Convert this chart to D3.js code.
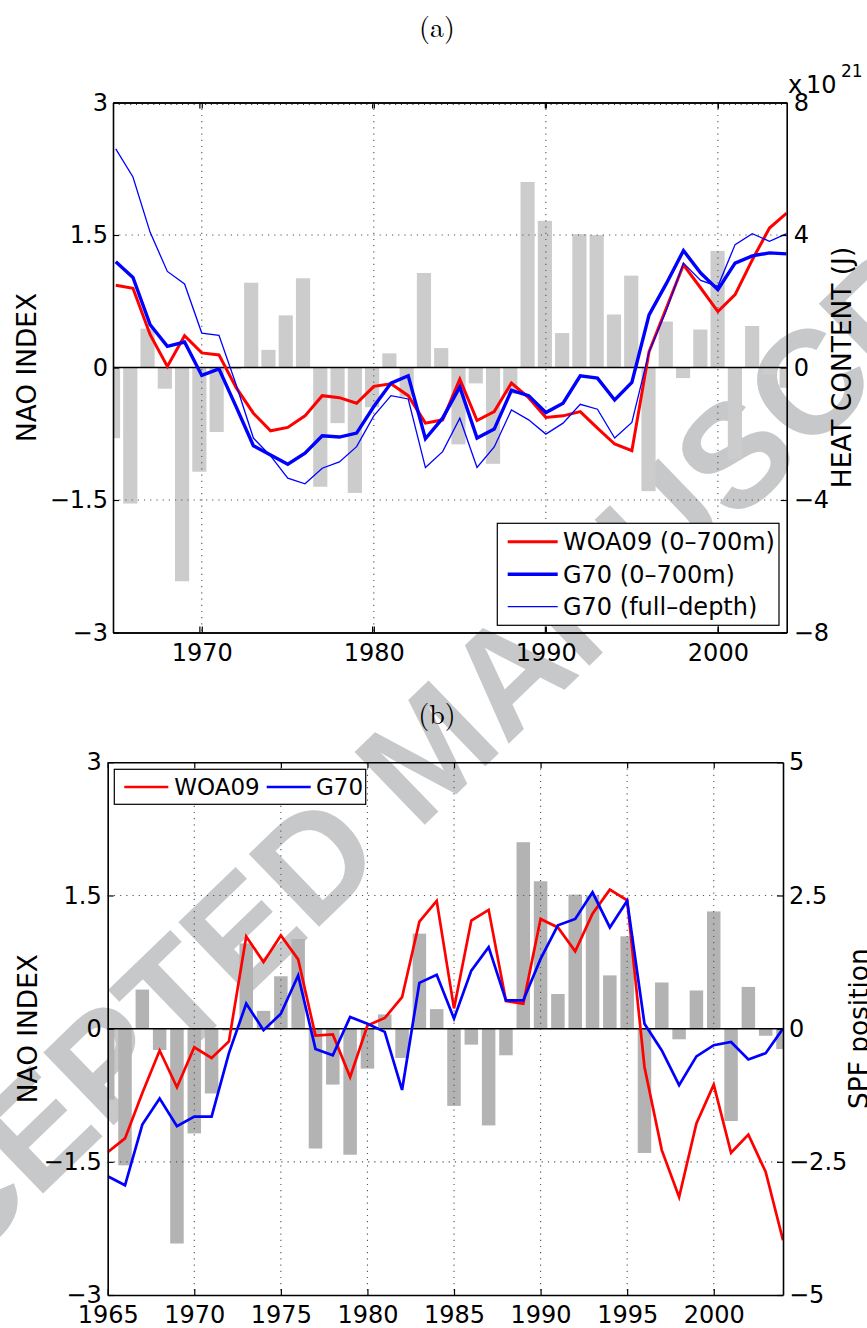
<!DOCTYPE html>
<html><head><meta charset="utf-8">
<script src="https://cdn.jsdelivr.net/npm/d3@7"></script>
<style>body{margin:0;background:#fff}svg{display:block}</style>
</head><body>
<svg id="c" width="867" height="1328"></svg>
<script>
// ---------- DATA ----------
const years = [1965,1966,1967,1968,1969,1970,1971,1972,1973,1974,1975,1976,1977,1978,1979,1980,1981,1982,1983,1984,1985,1986,1987,1988,1989,1990,1991,1992,1993,1994,1995,1996,1997,1998,1999,2000,2001,2002,2003,2004];
const naoIndex = [-0.80,-1.54,0.44,-0.24,-2.42,-1.18,-0.73,-0.02,0.96,0.20,0.59,1.01,-1.35,-0.63,-1.42,-0.45,0.16,-0.33,1.07,0.22,-0.87,-0.18,-1.09,-0.30,2.10,1.66,0.39,1.51,1.50,0.60,1.04,-1.40,0.52,-0.12,0.43,1.32,-1.04,0.47,-0.08,-0.23];
// heat content, x 10^21 J
const hcWOA09 = [2.48,2.39,0.99,0.03,0.96,0.44,0.38,-0.61,-1.38,-1.91,-1.81,-1.46,-0.85,-0.91,-1.08,-0.57,-0.49,-0.85,-1.68,-1.58,-0.35,-1.60,-1.33,-0.47,-0.91,-1.51,-1.46,-1.33,-1.83,-2.31,-2.51,0.48,1.79,3.10,2.40,1.69,2.20,3.25,4.21,4.66];
const hcG70 = [3.19,2.72,1.29,0.64,0.77,-0.24,-0.04,-1.19,-2.36,-2.64,-2.92,-2.59,-2.06,-2.10,-1.98,-1.18,-0.47,-0.25,-2.15,-1.53,-0.59,-2.13,-1.86,-0.69,-0.85,-1.36,-1.08,-0.25,-0.32,-0.98,-0.45,1.59,2.53,3.53,2.85,2.35,3.15,3.37,3.46,3.43];
const hcG70full = [6.60,5.75,4.08,2.90,2.52,1.04,0.97,-0.52,-2.13,-2.67,-3.34,-3.51,-3.04,-2.85,-2.39,-1.46,-0.85,-0.95,-3.02,-2.54,-1.53,-3.02,-2.40,-1.28,-1.58,-2.01,-1.68,-1.11,-1.26,-2.13,-1.66,0.47,1.72,3.15,2.63,2.45,3.71,4.04,3.81,4.04];
// SPF position
const spfWOA09 = [-2.32,-2.06,-1.21,-0.41,-1.10,-0.35,-0.55,-0.24,1.73,1.25,1.75,1.30,-0.13,-0.11,-0.91,0.06,0.20,0.59,2.01,2.40,0.38,2.03,2.23,0.52,0.47,2.06,1.90,1.45,2.16,2.61,2.41,-0.72,-2.28,-3.16,-1.78,-1.05,-2.33,-1.99,-2.69,-3.97];
const spfG70 = [-2.77,-2.94,-1.80,-1.31,-1.83,-1.65,-1.65,-0.46,0.47,-0.03,0.28,1.00,-0.38,-0.50,0.22,0.09,-0.06,-1.15,0.86,1.01,0.19,1.09,1.53,0.53,0.53,1.31,1.94,2.06,2.56,1.90,2.40,0.09,-0.41,-1.06,-0.52,-0.31,-0.25,-0.58,-0.46,0.00];
const naoTicks = [-3,-1.5,0,1.5,3];
const hcTicks = [-8,-4,0,4,8];
const spfTicks = [-5,-2.5,0,2.5,5];
const yearTicksA = [1970,1980,1990,2000];
const yearTicksB = [1965,1970,1975,1980,1985,1990,1995,2000];
const legendA = ["WOA09 (0\u2013700m)","G70 (0\u2013700m)","G70 (full\u2013depth)"];
const legendB = ["WOA09","G70"];

// ---------- DRAW ----------
const svg = d3.select("#c");
const FONT = "DejaVu Sans, Liberation Sans, Arial, sans-serif";
svg.append("rect").attr("width",867).attr("height",1328).attr("fill","#fff");

// watermark (behind data)
svg.append("g").attr("transform","translate(428,748) rotate(-44)")
  .append("text").attr("text-anchor","middle").attr("dy","0.36em")
  .attr("font-family","Liberation Sans, Arial, sans-serif").attr("font-weight","bold")
  .attr("font-size",147).attr("fill","#c7c8ca").text("ACCEPTED MANUSCRIPT");

const fmt = d3.format("~g");
let clipId = 0;

function drawPanel(o){
  const g = svg.append("g");
  const id = "clip"+(clipId++);
  g.append("clipPath").attr("id",id).append("rect")
    .attr("x",o.L).attr("y",o.T).attr("width",o.R-o.L).attr("height",o.B-o.T);
  const xBar = d3.scaleLinear().domain(o.barDomain).range([o.L,o.R]);
  const xLine = d3.scaleLinear().domain(o.lineDomain).range([o.L,o.R]);
  const yL = d3.scaleLinear().domain([-3,3]).range([o.B,o.T]);
  const yR = d3.scaleLinear().domain(o.rDomain).range([o.B,o.T]);
  const bw = (xBar(1966)-xBar(1965))*o.barWidth;
  // bars
  g.append("g").attr("clip-path",`url(#${id})`).selectAll("rect").data(years).join("rect")
    .attr("x",(d)=>xBar(d)-bw/2).attr("width",bw)
    .attr("y",(d,i)=>yL(Math.max(0,naoIndex[i])))
    .attr("height",(d,i)=>Math.abs(yL(naoIndex[i])-yL(0)))
    .attr("fill",o.barColor);
  // grid
  const grid = g.append("g").attr("stroke","#555").attr("stroke-width",1.1).attr("stroke-dasharray","1.2,5");
  o.xTicks.forEach(t=>{ if(t>o.lineDomain[0]+0.01) grid.append("line").attr("x1",xLine(t)).attr("x2",xLine(t)).attr("y1",o.T).attr("y2",o.B);});
  [-1.5,1.5].forEach(t=>grid.append("line").attr("x1",o.L).attr("x2",o.R).attr("y1",yL(t)).attr("y2",yL(t)));
  // zero line
  g.append("line").attr("x1",o.L).attr("x2",o.R).attr("y1",yL(0)).attr("y2",yL(0)).attr("stroke","#000").attr("stroke-width",1.5);
  // lines
  const lg = g.append("g").attr("clip-path",`url(#${id})`);
  o.series.forEach(s=>{
    const line = d3.line().x((d,i)=>xLine(years[i])).y(d=>yR(d));
    lg.append("path").datum(s.values).attr("d",line).attr("fill","none")
      .attr("stroke",s.color).attr("stroke-width",s.width).attr("stroke-linejoin","miter");
  });
  // axes
  const axL = d3.axisLeft(yL).tickValues(naoTicks).tickFormat(fmt).tickSizeInner(-6).tickSizeOuter(0).tickPadding(o.lPad);
  const axR = d3.axisRight(yR).tickValues(o.rTicks).tickFormat(fmt).tickSizeInner(-6).tickSizeOuter(0).tickPadding(o.rPad);
  const axB = d3.axisBottom(xLine).tickValues(o.xTicks).tickFormat(d3.format("d")).tickSizeInner(-6).tickSizeOuter(0).tickPadding(11);
  const axT = d3.axisTop(xLine).tickValues(o.xTicks).tickFormat("").tickSizeInner(-6).tickSizeOuter(0);
  const styleAx = sel => { sel.selectAll("path").attr("stroke","#000").attr("stroke-width",1.6);
    sel.selectAll("line").attr("stroke","#000").attr("stroke-width",1.2);
    sel.selectAll("text").attr("fill","#000").attr("font-family",FONT).attr("font-size",24); sel.attr("font-family",FONT).attr("font-size",24); };
  if (o.dualTicks){
    // second (bar) axis ticks, slightly offset from the line axis
    g.append("g").attr("transform",`translate(0,${o.B})`).call(d3.axisBottom(xBar).tickValues(o.xTicks).tickFormat("").tickSizeInner(-6).tickSizeOuter(0)).call(styleAx);
    g.append("g").attr("transform",`translate(0,${o.T})`).call(d3.axisTop(xBar).tickValues(o.xTicks).tickFormat("").tickSizeInner(-6).tickSizeOuter(0)).call(styleAx);
    const comb = d3.scaleLinear().domain([0,117]).range([o.L,o.R]);
    g.append("g").attr("transform",`translate(0,${o.T})`)
      .call(d3.axisTop(comb).ticks(117).tickFormat("").tickSizeInner(-2.5).tickSizeOuter(0))
      .call(sel=>{sel.selectAll("path").remove(); sel.selectAll("line").attr("stroke","#333").attr("stroke-width",1);});
  }
  g.append("g").attr("transform",`translate(${o.L},0)`).call(axL).call(styleAx);
  g.append("g").attr("transform",`translate(${o.R},0)`).call(axR).call(styleAx);
  g.append("g").attr("transform",`translate(0,${o.B})`).call(axB).call(styleAx);
  g.append("g").attr("transform",`translate(0,${o.T})`).call(axT).call(styleAx);
  // axis titles
  g.append("text").attr("transform",`translate(${o.lLabX},${(o.T+o.B)/2}) rotate(-90)`).attr("text-anchor","middle")
    .attr("font-family",FONT).attr("font-size",26.4).text("NAO INDEX");
  g.append("text").attr("transform",`translate(${o.rLabX},${(o.T+o.B)/2}) rotate(-90)`).attr("text-anchor","middle")
    .attr("font-family",FONT).attr("font-size",26.4).text(o.rLabel);
  // panel title
  svg.append("text").attr("x",437).attr("y",o.titleY).attr("text-anchor","middle")
    .attr("font-family","Latin Modern Roman, CMU Serif, Liberation Serif, DejaVu Serif, serif").attr("font-size",28).text(o.title);
  return g;
}

const gA = drawPanel({L:113,R:786.7,T:102.5,B:632.5,barDomain:[1965,2004],lineDomain:[1964.84,2004],
  rDomain:[-8,8],rTicks:hcTicks,xTicks:yearTicksA,barWidth:0.82,barColor:"#cccccc",lPad:5,rPad:7,dualTicks:true,
  lLabX:36,rLabX:851,rLabel:"HEAT CONTENT (J)",title:"(a)",titleY:37,
  series:[{values:hcWOA09,color:"#ff0000",width:3},{values:hcG70,color:"#0000ff",width:3.4},{values:hcG70full,color:"#0000ff",width:1.3}]});
// x 10^21
gA.append("text").attr("x",788).attr("y",93).attr("font-family",FONT).attr("font-size",24).text("x");
gA.append("text").attr("x",806).attr("y",93).attr("font-family",FONT).attr("font-size",24).text("10");
gA.append("text").attr("x",841).attr("y",77).attr("font-family",FONT).attr("font-size",17).text("21");
// legend a
{
  const lg = gA.append("g");
  lg.append("rect").attr("x",497.3).attr("y",523.3).attr("width",779-497.3).attr("height",625.3-523.3)
    .attr("fill","#fff").attr("stroke","#000").attr("stroke-width",1.2);
  const st = [{c:"#ff0000",w:3},{c:"#0000ff",w:3.4},{c:"#0000ff",w:1.3}];
  const ys = [541.7,574.3,606.7];
  legendA.forEach((t,i)=>{
    lg.append("line").attr("x1",507.7).attr("x2",557.7).attr("y1",ys[i]).attr("y2",ys[i]).attr("stroke",st[i].c).attr("stroke-width",st[i].w);
    lg.append("text").attr("x",563).attr("y",ys[i]).attr("dy","0.36em").attr("font-family",FONT).attr("font-size",24).text(t);
  });
}

const gB = drawPanel({L:107.7,R:783,T:762.3,B:1295,barDomain:[1965,2004],lineDomain:[1965,2004],
  rDomain:[-5,5],rTicks:spfTicks,xTicks:yearTicksB,barWidth:0.78,barColor:"#b3b3b3",lPad:6,rPad:6,dualTicks:false,
  lLabX:37,rLabX:868,rLabel:"SPF position",title:"(b)",titleY:724,
  series:[{values:spfWOA09,color:"#ff0000",width:2.7},{values:spfG70,color:"#0000ff",width:2.7}]});
{
  const lg = gB.append("g");
  lg.append("rect").attr("x",114.3).attr("y",769.3).attr("width",365.7-114.3).attr("height",804.3-769.3)
    .attr("fill","#fff").attr("stroke","#000").attr("stroke-width",1.2);
  const cols = ["#ff0000","#0000ff"], lx = [124.3,266.7], tx=[174.3,316];
  legendB.forEach((t,i)=>{
    lg.append("line").attr("x1",lx[i]).attr("x2",lx[i]+44).attr("y1",787).attr("y2",787).attr("stroke",cols[i]).attr("stroke-width",2.7);
    lg.append("text").attr("x",tx[i]).attr("y",787).attr("dy","0.36em").attr("font-family",FONT).attr("font-size",23).text(t);
  });
}
</script>
</body></html>
